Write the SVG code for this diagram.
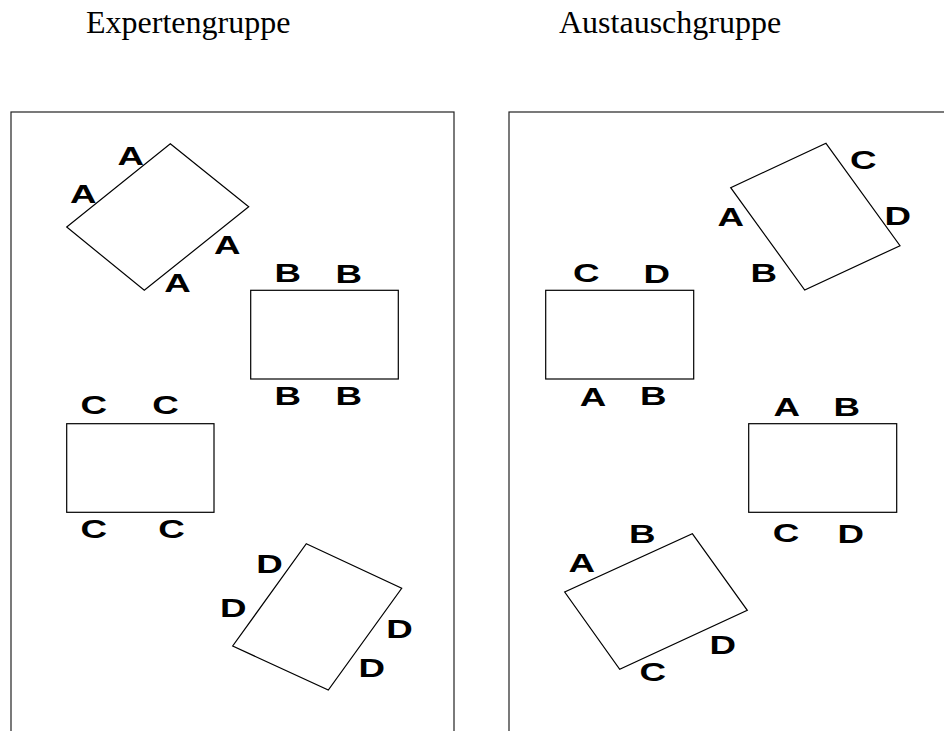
<svg xmlns="http://www.w3.org/2000/svg" width="944" height="731" viewBox="0 0 944 731">
<style>
.title{font-family:"Liberation Serif","Times New Roman",serif;font-size:32px;fill:#000}
.frame{fill:none;stroke:#222;stroke-width:1.2}
.shape{fill:#fff;stroke:#000;stroke-width:1.2;stroke-linejoin:miter}
.lbl{font-family:"Liberation Sans",Arial,sans-serif;font-weight:bold;font-size:25px;fill:#000;text-anchor:middle}
</style>
<rect width="944" height="731" fill="#fff"/>
<g id="titles">
<text class="title" x="86" y="33">Expertengruppe</text>
<text class="title" x="559" y="33">Austauschgruppe</text>
</g>
<g id="frame-expert"><rect class="frame" x="11" y="112" width="443" height="640"/></g>
<g id="frame-austausch"><rect class="frame" x="509" y="112" width="460" height="640"/></g>

<g id="expert-A">
<polygon class="shape" points="170.3,143.7 248.7,206.7 144.3,290.3 66.7,227"/>
<text class="lbl" transform="translate(130.8,165.3) scale(1.47,1)">A</text>
<text class="lbl" transform="translate(83.3,203.3) scale(1.47,1)">A</text>
<text class="lbl" transform="translate(227.2,254) scale(1.47,1)">A</text>
<text class="lbl" transform="translate(177.5,292.3) scale(1.47,1)">A</text>
</g>
<g id="expert-B">
<rect class="shape" x="250.7" y="290.3" width="147.6" height="88.7"/>
<text class="lbl" transform="translate(287.8,281.7) scale(1.47,1)">B</text>
<text class="lbl" transform="translate(348.8,282.7) scale(1.47,1)">B</text>
<text class="lbl" transform="translate(287.8,404.5) scale(1.47,1)">B</text>
<text class="lbl" transform="translate(348.8,404.5) scale(1.47,1)">B</text>
</g>
<g id="expert-C">
<rect class="shape" x="66.7" y="423.7" width="147.3" height="88.6"/>
<text class="lbl" transform="translate(93.8,414.3) scale(1.47,1)">C</text>
<text class="lbl" transform="translate(165.5,414.3) scale(1.47,1)">C</text>
<text class="lbl" transform="translate(93.8,537.7) scale(1.47,1)">C</text>
<text class="lbl" transform="translate(171.5,537.7) scale(1.47,1)">C</text>
</g>
<g id="expert-D">
<polygon class="shape" points="306.3,543.7 401.7,588.3 328.3,690 232.7,646"/>
<text class="lbl" transform="translate(269.5,572.7) scale(1.47,1)">D</text>
<text class="lbl" transform="translate(233.3,616.7) scale(1.47,1)">D</text>
<text class="lbl" transform="translate(399.5,638.3) scale(1.47,1)">D</text>
<text class="lbl" transform="translate(371.7,676.7) scale(1.47,1)">D</text>
</g>

<g id="austausch-1">
<polygon class="shape" points="826,143.3 900,245.7 804.7,290 730.7,187.7"/>
<text class="lbl" transform="translate(863.3,169) scale(1.47,1)">C</text>
<text class="lbl" transform="translate(897.8,225) scale(1.47,1)">D</text>
<text class="lbl" transform="translate(730.8,226) scale(1.47,1)">A</text>
<text class="lbl" transform="translate(763.8,281.7) scale(1.47,1)">B</text>
</g>
<g id="austausch-2">
<rect class="shape" x="545.7" y="290.3" width="148" height="88.7"/>
<text class="lbl" transform="translate(586.3,281.7) scale(1.47,1)">C</text>
<text class="lbl" transform="translate(656.8,282.7) scale(1.47,1)">D</text>
<text class="lbl" transform="translate(593,405.7) scale(1.47,1)">A</text>
<text class="lbl" transform="translate(653.2,404.5) scale(1.47,1)">B</text>
</g>
<g id="austausch-3">
<rect class="shape" x="748.7" y="423.7" width="148" height="88.6"/>
<text class="lbl" transform="translate(786.7,415.7) scale(1.47,1)">A</text>
<text class="lbl" transform="translate(846.8,415.7) scale(1.47,1)">B</text>
<text class="lbl" transform="translate(786,542.3) scale(1.47,1)">C</text>
<text class="lbl" transform="translate(850.7,543.3) scale(1.47,1)">D</text>
</g>
<g id="austausch-4">
<polygon class="shape" points="692.3,533.7 747.3,610.3 619.7,669.3 564.7,592"/>
<text class="lbl" transform="translate(642.2,543.3) scale(1.47,1)">B</text>
<text class="lbl" transform="translate(581.7,571.7) scale(1.47,1)">A</text>
<text class="lbl" transform="translate(722.8,654.3) scale(1.47,1)">D</text>
<text class="lbl" transform="translate(652.8,681) scale(1.47,1)">C</text>
</g>
<g id="connectors"></g>
</svg>
